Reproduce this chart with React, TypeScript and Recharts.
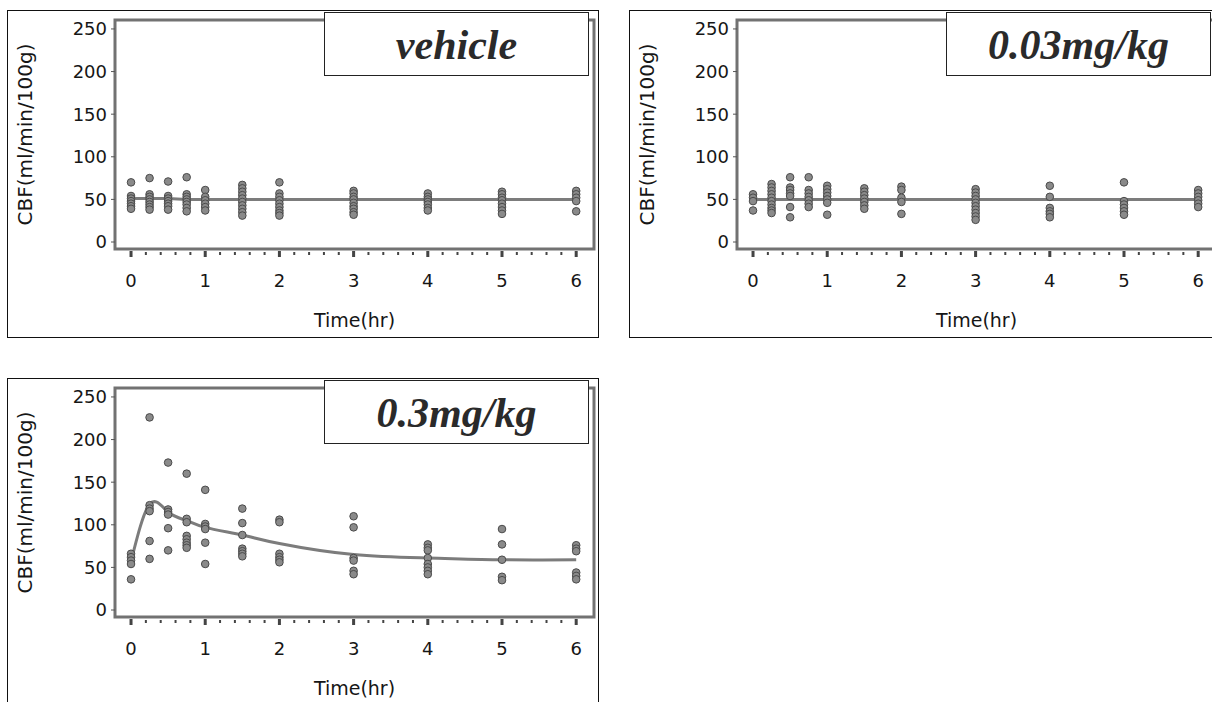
import { ComposedChart, Scatter, Line, XAxis, YAxis, ReferenceArea } from 'recharts'

// sampling times (hr)
const TIMES = [0, 0.25, 0.5, 0.75, 1, 1.5, 2, 3, 4, 5, 6]

// CBF (ml/min/100g) per animal, one list per sampling time
const VEHICLE_CBF = [
  [70, 54, 51, 48, 45, 42, 39],
  [75, 56, 53, 50, 47, 44, 41, 38],
  [71, 54, 51, 48, 45, 42, 38],
  [76, 56, 53, 50, 47, 44, 40, 36],
  [61, 53, 49, 45, 41, 37],
  [67, 63, 59, 55, 51, 47, 43, 39, 35, 31],
  [70, 57, 53, 49, 45, 41, 37, 34, 31],
  [60, 57, 53, 50, 46, 42, 39, 35, 32],
  [57, 53, 50, 47, 44, 40, 37],
  [59, 56, 52, 49, 45, 41, 37, 33],
  [60, 56, 52, 48, 36],
]
const VEHICLE_MEAN = [51, 51, 51, 50, 50, 50, 50, 50, 50, 50, 50]

const LOW_DOSE_CBF = [
  [56, 52, 48, 37],
  [68, 64, 60, 56, 52, 48, 44, 40, 37, 34],
  [76, 64, 61, 57, 54, 41, 29],
  [76, 61, 57, 53, 49, 45, 41],
  [66, 62, 58, 54, 50, 46, 32],
  [63, 59, 55, 51, 47, 43, 39],
  [65, 61, 52, 47, 33],
  [62, 58, 54, 50, 46, 42, 38, 34, 30, 26],
  [66, 53, 40, 36, 33, 29],
  [70, 48, 44, 40, 36, 32],
  [61, 57, 53, 49, 45, 41],
]
const LOW_DOSE_MEAN = [50, 50, 50, 50, 50, 50, 50, 50, 50, 50, 50]

const HIGH_DOSE_CBF = [
  [66, 62, 58, 54, 36],
  [226, 123, 119, 116, 81, 60],
  [173, 118, 115, 112, 96, 70],
  [160, 107, 103, 87, 83, 79, 76, 73],
  [141, 101, 98, 95, 79, 54],
  [119, 102, 88, 72, 69, 66, 63],
  [106, 103, 66, 62, 59, 56],
  [110, 97, 61, 58, 46, 42],
  [77, 73, 70, 61, 54, 50, 46, 42],
  [95, 77, 59, 39, 35],
  [76, 72, 69, 44, 40, 36],
]
const HIGH_DOSE_MEAN = [57, 124, 115, 105, 97, 88, 78, 65, 61, 59, 59]

const Y_TICKS = [0, 50, 100, 150, 200, 250]
const X_LABELS = [0, 1, 2, 3, 4, 5, 6]
// minor ticks every 0.2 hr
const X_TICKS = Array.from({ length: 31 }, (_, i) => Number((i * 0.2).toFixed(1)))

const X_DOMAIN: [number, number] = [-0.216, 6.24]
const Y_DOMAIN: [number, number] = [-8.2, 260.5]

const SANS = "'DejaVu Sans', Arial, sans-serif"
const SERIF = "'Liberation Serif', 'Times New Roman', serif"
const INK = '#161616'

function TimeTick({ x, y, payload }: any) {
  const v = payload.value
  const major = X_LABELS.includes(v)
  return (
    <g>
      {major ? (
        <rect x={x - 1.5} y={y + 2} width={3} height={6} fill="#444" />
      ) : (
        <rect x={x - 1} y={y + 3} width={2} height={3} fill="#444" />
      )}
      {major && (
        <text x={x} y={y + 38} textAnchor="middle" fontSize={18} fill={INK} fontFamily={SANS}>
          {v}
        </text>
      )}
    </g>
  )
}

function Dot(props: any) {
  return <circle cx={props.cx} cy={props.cy} r={3.8} fill="#8a8a8a" stroke="#4a4a4a" strokeWidth={1} />
}

interface PanelProps {
  left: number
  top: number
  title: string
  values: number[][]
  mean: number[]
  curve: 'linear' | 'natural'
}

function Panel({ left, top, title, values, mean, curve }: PanelProps) {
  const points = TIMES.flatMap((t, i) => values[i].map((cbf) => ({ t, cbf })))
  const meanLine = TIMES.map((t, i) => ({ t, cbf: mean[i] }))

  return (
    <div style={{ position: 'absolute', left, top, width: 592, height: 328 }}>
      <ComposedChart width={592} height={328} margin={{ top: 10, right: 5, bottom: 4, left: 0 }}>
        <XAxis
          dataKey="t"
          type="number"
          domain={X_DOMAIN}
          allowDataOverflow
          ticks={X_TICKS}
          interval={0}
          axisLine={false}
          tickLine={false}
          tickSize={0}
          tickMargin={0}
          height={85}
          tick={<TimeTick />}
          label={{
            value: 'Time(hr)',
            position: 'insideBottom',
            offset: 7,
            style: { fontSize: 19, fill: INK, fontFamily: SANS },
          }}
        />
        <YAxis
          dataKey="cbf"
          type="number"
          domain={Y_DOMAIN}
          allowDataOverflow
          ticks={Y_TICKS}
          interval={0}
          axisLine={false}
          tickLine={{ stroke: '#555' }}
          tickSize={4}
          tickMargin={4}
          width={108}
          tick={{ fontSize: 18, fill: INK, fontFamily: SANS }}
          label={{
            value: 'CBF(ml/min/100g)',
            angle: -90,
            position: 'insideLeft',
            offset: 18,
            style: { textAnchor: 'middle', fontSize: 20, fill: INK, fontFamily: SANS },
          }}
        />
        <ReferenceArea
          x1={X_DOMAIN[0]}
          x2={X_DOMAIN[1]}
          y1={Y_DOMAIN[0]}
          y2={Y_DOMAIN[1]}
          fill="none"
          fillOpacity={0}
          stroke="#727272"
          strokeWidth={3}
        />
        <Scatter data={points} shape={<Dot />} isAnimationActive={false} />
        <Line
          data={meanLine}
          dataKey="cbf"
          type={curve}
          stroke="#7c7c7c"
          strokeWidth={3}
          dot={false}
          activeDot={false}
          isAnimationActive={false}
        />
      </ComposedChart>
      {/* outer frame */}
      <div
        style={{
          position: 'absolute',
          left: 0,
          top: 0,
          width: 592,
          height: 328,
          border: '1px solid #111',
          boxSizing: 'border-box',
          pointerEvents: 'none',
        }}
      />
      {/* dose label box */}
      <div
        style={{
          position: 'absolute',
          left: 317,
          top: 2,
          width: 265,
          height: 64,
          border: '1.5px solid #222',
          boxSizing: 'border-box',
          background: '#fff',
          textAlign: 'center',
          fontFamily: SERIF,
          fontStyle: 'italic',
          fontWeight: 'bold',
          fontSize: 42,
          lineHeight: '60px',
          paddingTop: 2,
          color: '#2a2a2a',
          whiteSpace: 'nowrap',
        }}
      >
        {title}
      </div>
    </div>
  )
}

export default function App() {
  return (
    <div
      style={{
        position: 'absolute',
        left: 0,
        top: 0,
        width: 1212,
        height: 702,
        overflow: 'hidden',
        background: '#fff',
      }}
    >
      <Panel left={7} top={10} title="vehicle" values={VEHICLE_CBF} mean={VEHICLE_MEAN} curve="linear" />
      <Panel left={629} top={10} title="0.03mg/kg" values={LOW_DOSE_CBF} mean={LOW_DOSE_MEAN} curve="linear" />
      <Panel left={7} top={378} title="0.3mg/kg" values={HIGH_DOSE_CBF} mean={HIGH_DOSE_MEAN} curve="natural" />
    </div>
  )
}
